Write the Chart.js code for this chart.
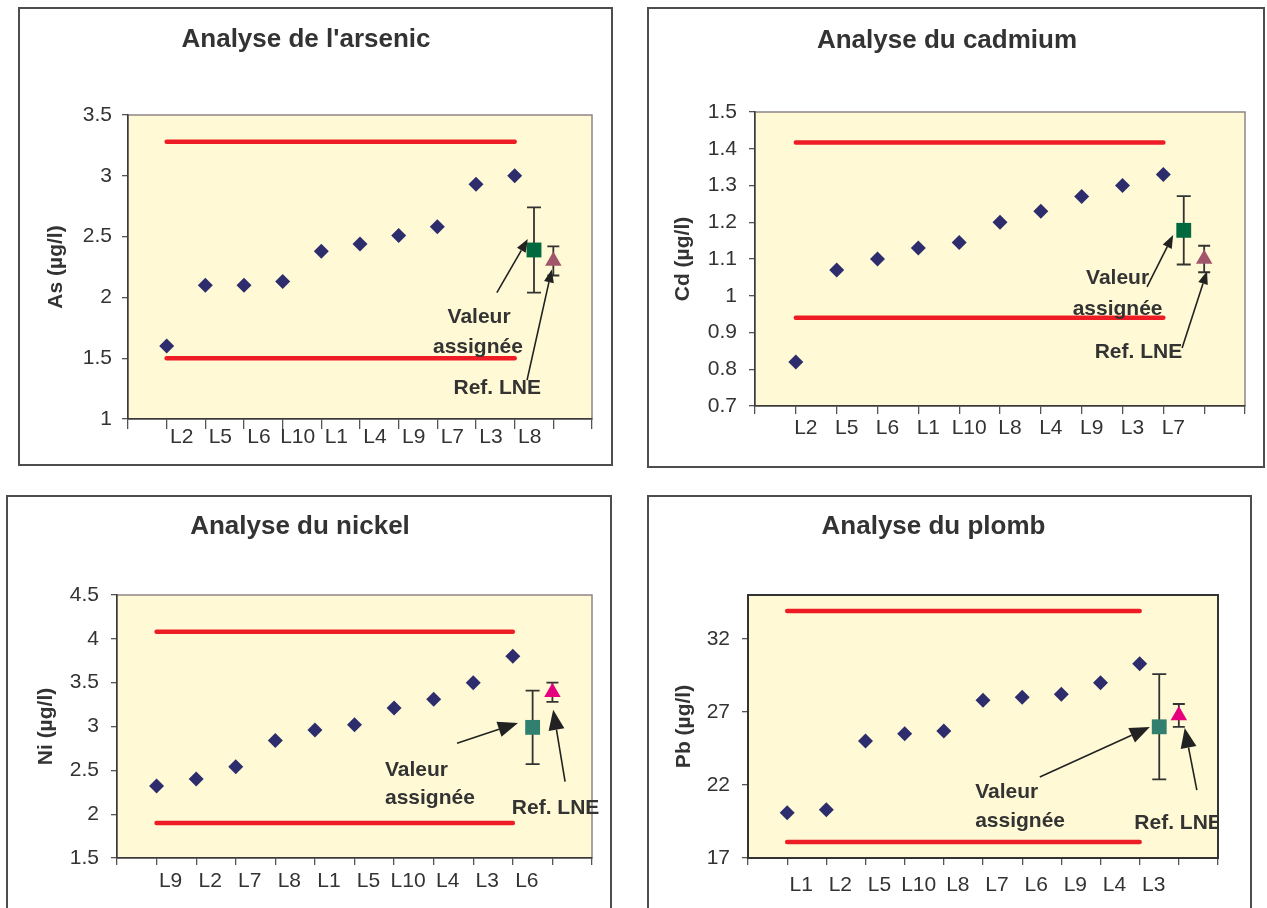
<!DOCTYPE html>
<html lang="fr">
<head>
<meta charset="utf-8">
<title>Analyses des métaux</title>
<script src="https://cdn.jsdelivr.net/npm/chart.js@4.4.1/dist/chart.umd.min.js"></script>
<style>
  html, body { margin: 0; padding: 0; background: #fff; overflow: hidden; }
  body { width: 1267px; height: 908px; position: relative; }
  canvas.panel { position: absolute; border: 2px solid #4d4d4d; }
</style>
</head>
<body>
<canvas id="chart-as" class="panel"></canvas>
<canvas id="chart-cd" class="panel"></canvas>
<canvas id="chart-ni" class="panel"></canvas>
<canvas id="chart-pb" class="panel"></canvas>
<script>
// Arsenic
const asLabs = ['L2', 'L5', 'L6', 'L10', 'L1', 'L4', 'L9', 'L7', 'L3', 'L8'];
const asValues = [1.60, 2.10, 2.10, 2.13, 2.38, 2.44, 2.51, 2.58, 2.93, 3.00];
const asAssigned = [2.39, 0.35];   // value, uncertainty
const asRef = [2.30, 0.12];
const asLimits = [1.50, 3.28];
const asTicks = [1, 1.5, 2, 2.5, 3, 3.5];

// Cadmium
const cdLabs = ['L2', 'L5', 'L6', 'L1', 'L10', 'L8', 'L4', 'L9', 'L3', 'L7'];
const cdValues = [0.82, 1.07, 1.10, 1.13, 1.145, 1.20, 1.23, 1.27, 1.30, 1.33];
const cdAssigned = [1.178, 0.093];
const cdRef = [1.10, 0.036];
const cdLimits = [0.94, 1.417];
const cdTicks = [0.7, 0.8, 0.9, 1, 1.1, 1.2, 1.3, 1.4, 1.5];

// Nickel
const niLabs = ['L9', 'L2', 'L7', 'L8', 'L1', 'L5', 'L10', 'L4', 'L3', 'L6'];
const niValues = [2.32, 2.40, 2.54, 2.84, 2.96, 3.02, 3.21, 3.31, 3.50, 3.80];
const niAssigned = [2.99, 0.42];
const niRef = [3.39, 0.11];
const niLimits = [1.90, 4.08];
const niTicks = [1.5, 2, 2.5, 3, 3.5, 4, 4.5];

// Plomb
const pbLabs = ['L1', 'L2', 'L5', 'L10', 'L8', 'L7', 'L6', 'L9', 'L4', 'L3'];
const pbValues = [20.1, 20.3, 25.0, 25.5, 25.7, 27.8, 28.0, 28.2, 29.0, 30.3];
const pbAssigned = [25.98, 3.6];
const pbRef = [26.76, 0.78];
const pbLimits = [18.1, 33.9];
const pbTicks = [17, 22, 27, 32];
const pbRange = [17, 35];

Chart.defaults.font.family = "'Liberation Sans', Arial, sans-serif";
Chart.defaults.color = '#333';

const FRAME_BORDER = 2;
const TITLE_SIZE = 26;
const TICK_SIZE = 21;
const AXIS_TITLE_SIZE = 21;

// plot background, error bars, notes and arrows
const extras = {
  id: 'extras',
  beforeDraw(chart, args, opts) {
    const { ctx, chartArea: a } = chart;
    ctx.save();
    ctx.fillStyle = opts.plotColor;
    ctx.fillRect(a.left, a.top, a.width, a.height);
    ctx.strokeStyle = opts.plotBorder;
    ctx.lineWidth = opts.plotBorderWidth;
    ctx.strokeRect(a.left, a.top, a.width, a.height);
    ctx.restore();
  },
  beforeDatasetsDraw(chart) {
    const { ctx, scales: { x, y } } = chart;
    ctx.save();
    ctx.strokeStyle = '#333';
    ctx.lineWidth = 1.8;
    chart.data.datasets.forEach(ds => {
      if (!ds.errors) return;
      ds.data.forEach((pt, i) => {
        const px = x.getPixelForValue(pt.x);
        const top = y.getPixelForValue(pt.y + ds.errors[i]);
        const bot = y.getPixelForValue(pt.y - ds.errors[i]);
        const h = ds.capWidth / 2;
        ctx.beginPath();
        ctx.moveTo(px, top); ctx.lineTo(px, bot);
        ctx.moveTo(px - h, top); ctx.lineTo(px + h, top);
        ctx.moveTo(px - h, bot); ctx.lineTo(px + h, bot);
        ctx.stroke();
      });
    });
    ctx.restore();
  },
  afterDraw(chart, args, opts) {
    const { ctx, chartArea: a, scales: { x, y } } = chart;
    ctx.save();
    if (opts.clipNotes) {
      ctx.beginPath();
      ctx.rect(a.left, a.top, a.width, a.height);
      ctx.clip();
    }
    ctx.fillStyle = '#333';
    ctx.font = `bold ${AXIS_TITLE_SIZE}px 'Liberation Sans', Arial, sans-serif`;
    ctx.textBaseline = 'middle';
    opts.notes.forEach(n => {
      ctx.textAlign = n.align || 'center';
      ctx.fillText(n.text, x.getPixelForValue(n.x), y.getPixelForValue(n.y));
    });
    // arrows: line plus filled head at the far end
    const [len, half] = opts.head;
    ctx.strokeStyle = '#222';
    ctx.fillStyle = '#222';
    ctx.lineWidth = 1.6;
    opts.arrows.forEach(([x1, y1, x2, y2]) => {
      const ax = x.getPixelForValue(x1), ay = y.getPixelForValue(y1);
      const bx = x.getPixelForValue(x2), by = y.getPixelForValue(y2);
      const ang = Math.atan2(by - ay, bx - ax);
      const cx = bx - len * Math.cos(ang), cy = by - len * Math.sin(ang);
      ctx.beginPath();
      ctx.moveTo(ax, ay);
      ctx.lineTo(cx, cy);
      ctx.stroke();
      ctx.beginPath();
      ctx.moveTo(bx, by);
      ctx.lineTo(cx + half * Math.sin(ang), cy - half * Math.cos(ang));
      ctx.lineTo(cx - half * Math.sin(ang), cy + half * Math.cos(ang));
      ctx.closePath();
      ctx.fill();
    });
    ctx.restore();
  }
};

function buildChart(p) {
  const canvas = document.getElementById(p.id);
  const [fx, fy, fw, fh] = p.frame;
  const ox = fx + FRAME_BORDER, oy = fy + FRAME_BORDER;
  const cw = fw - 2 * FRAME_BORDER, ch = fh - 2 * FRAME_BORDER;
  // Chart.js switches canvases to border-box unless told otherwise
  canvas.style.boxSizing = 'content-box';
  canvas.style.left = fx + 'px';
  canvas.style.top = fy + 'px';
  canvas.width = cw;
  canvas.height = ch;
  canvas.style.width = cw + 'px';
  canvas.style.height = ch + 'px';

  const [pl, pt, pr, pb] = p.plot;
  const titleTop = p.titleY - oy - TITLE_SIZE / 2;
  const titleBottom = pt - oy - titleTop - TITLE_SIZE;
  const n = p.labs.length;
  const range = p.range || [p.ticks[0], p.ticks[p.ticks.length - 1]];

  const datasets = [
    {
      data: p.labs.map((l, i) => ({ x: i + 1, y: p.values[i] })),
      pointStyle: 'rectRot', pointRadius: 7.5, backgroundColor: '#2d2d6e', borderWidth: 0
    },
    {
      data: [{ x: n + 0.5, y: p.assigned[0] }], errors: [p.assigned[1]], capWidth: 14,
      pointStyle: 'rect', pointRadius: 10.5, backgroundColor: p.squareColor, borderWidth: 0
    },
    {
      data: [{ x: n + 1, y: p.ref[0] }], errors: [p.ref[1]], capWidth: 12,
      pointStyle: 'triangle', pointRadius: 9.5, backgroundColor: p.triColor, borderWidth: 0
    },
    ...p.limits.map(v => ({
      data: [{ x: 1, y: v }, { x: n, y: v }],
      showLine: true, pointRadius: 0, borderColor: '#ee1c24', borderWidth: 4.5, borderCapStyle: 'round'
    }))
  ];

  return new Chart(canvas, {
    type: 'scatter',
    data: { datasets },
    plugins: [extras],
    options: {
      responsive: false,
      animation: false,
      events: [],
      layout: { padding: { top: 0, left: 0, bottom: 0, right: ox + cw - pr } },
      scales: {
        x: {
          type: 'linear',
          min: 0,
          max: n + 2,
          afterBuildTicks: s => { s.ticks = Array.from({ length: n + 3 }, (_, i) => ({ value: i })); },
          afterFit: s => { s.height = oy + ch - pb; },
          ticks: {
            callback: v => p.labs[v - 1] || '',
            autoSkip: false, maxRotation: 0, minRotation: 0,
            font: { size: TICK_SIZE, lineHeight: 1 }, color: '#333',
            padding: p.xPad, labelOffset: p.labelOffset
          },
          grid: { drawOnChartArea: false, drawTicks: true, tickLength: p.xTickLen, color: '#555', lineWidth: 1.3 },
          border: { color: p.axisColor, width: p.axisWidth }
        },
        y: {
          min: range[0],
          max: range[1],
          afterBuildTicks: s => { s.ticks = p.ticks.map(v => ({ value: v })); },
          afterFit: s => { s.width = pl - ox; },
          ticks: { callback: v => String(v), font: { size: TICK_SIZE, lineHeight: 1 }, color: '#333', padding: p.yPad },
          grid: { drawOnChartArea: false, drawTicks: true, tickLength: 6, color: '#555', lineWidth: 1.3 },
          border: { color: p.axisColor, width: p.axisWidth },
          title: {
            display: true, text: p.axis, color: '#333',
            font: { size: AXIS_TITLE_SIZE, weight: 'bold', lineHeight: 1 },
            padding: { top: p.axisTitleX - ox - AXIS_TITLE_SIZE / 2, bottom: 0 }
          }
        }
      },
      plugins: {
        legend: { display: false },
        tooltip: { enabled: false },
        title: {
          display: true, text: p.title, color: '#333',
          font: { size: TITLE_SIZE, weight: 'bold', lineHeight: 1 },
          padding: { top: titleTop, bottom: titleBottom }
        },
        extras: {
          plotColor: '#fffad5',
          plotBorder: p.plotBorder,
          plotBorderWidth: p.plotBorderWidth,
          notes: p.notes,
          arrows: p.arrows,
          head: p.head,
          clipNotes: p.clipNotes
        }
      }
    }
  });
}

const panels = [
  {
    id: 'chart-as', title: "Analyse de l'arsenic", axis: 'As (µg/l)',
    labs: asLabs, values: asValues, assigned: asAssigned, ref: asRef, limits: asLimits, ticks: asTicks,
    frame: [18, 7, 595, 459], plot: [128, 115, 592, 419], titleY: 40, axisTitleX: 56,
    xTickLen: 10, xPad: -2, yPad: 10, labelOffset: 15,
    squareColor: '#00693d', triColor: '#a1566b',
    plotBorder: '#8e8585', plotBorderWidth: 1.5, axisColor: '#3a3a3a', axisWidth: 1.5,
    head: [13, 5],
    notes: [
      { text: 'Valeur', x: 9.08, y: 1.84 },
      { text: 'assignée', x: 9.05, y: 1.59 },
      { text: 'Ref. LNE', x: 9.55, y: 1.255 }
    ],
    arrows: [[9.54, 2.04, 10.34, 2.48], [10.32, 1.32, 10.96, 2.23]]
  },
  {
    id: 'chart-cd', title: 'Analyse du cadmium', axis: 'Cd (µg/l)',
    labs: cdLabs, values: cdValues, assigned: cdAssigned, ref: cdRef, limits: cdLimits, ticks: cdTicks,
    frame: [647, 7, 618, 461], plot: [755, 112, 1245, 406], titleY: 41, axisTitleX: 683,
    xTickLen: 8, xPad: 4, yPad: 12, labelOffset: 10,
    squareColor: '#00693d', triColor: '#a1566b',
    plotBorder: '#8e8585', plotBorderWidth: 1.5, axisColor: '#3a3a3a', axisWidth: 1.5,
    head: [13, 5],
    notes: [
      { text: 'Valeur', x: 8.88, y: 1.048 },
      { text: 'assignée', x: 8.88, y: 0.964 },
      { text: 'Ref. LNE', x: 9.39, y: 0.847 }
    ],
    arrows: [[9.60, 1.024, 10.24, 1.165], [10.46, 0.858, 11.07, 1.067]]
  },
  {
    id: 'chart-ni', title: 'Analyse du nickel', axis: 'Ni (µg/l)',
    labs: niLabs, values: niValues, assigned: niAssigned, ref: niRef, limits: niLimits, ticks: niTicks,
    frame: [6, 495, 606, 430], plot: [117, 595, 592, 858], titleY: 527, axisTitleX: 46,
    xTickLen: 7, xPad: 6, yPad: 12, labelOffset: 14,
    squareColor: '#31806f', triColor: '#e6007e',
    plotBorder: '#8e8585', plotBorderWidth: 1.5, axisColor: '#3a3a3a', axisWidth: 1.5,
    head: [20, 8],
    notes: [
      { text: 'Valeur', x: 6.77, y: 2.50, align: 'left' },
      { text: 'assignée', x: 6.77, y: 2.18, align: 'left' },
      { text: 'Ref. LNE', x: 11.08, y: 2.07 }
    ],
    arrows: [[8.59, 2.81, 10.13, 3.04], [11.32, 2.37, 11.02, 3.19]]
  },
  {
    id: 'chart-pb', title: 'Analyse du plomb', axis: 'Pb (µg/l)',
    labs: pbLabs, values: pbValues, assigned: pbAssigned, ref: pbRef, limits: pbLimits, ticks: pbTicks, range: pbRange,
    frame: [647, 495, 605, 430], plot: [748, 595, 1218, 858], titleY: 527, axisTitleX: 684,
    xTickLen: 7, xPad: 10, yPad: 12, labelOffset: 14,
    squareColor: '#31806f', triColor: '#e6007e',
    plotBorder: '#333', plotBorderWidth: 2, axisColor: '#333', axisWidth: 2,
    head: [20, 8], clipNotes: true,
    notes: [
      { text: 'Valeur', x: 5.80, y: 21.52, align: 'left' },
      { text: 'assignée', x: 5.80, y: 19.53, align: 'left' },
      { text: 'Ref. LNE', x: 10.98, y: 19.40 }
    ],
    arrows: [[7.45, 22.54, 10.26, 25.97], [11.46, 21.65, 11.15, 25.90]]
  }
];

panels.forEach(buildChart);
</script>
</body>
</html>
